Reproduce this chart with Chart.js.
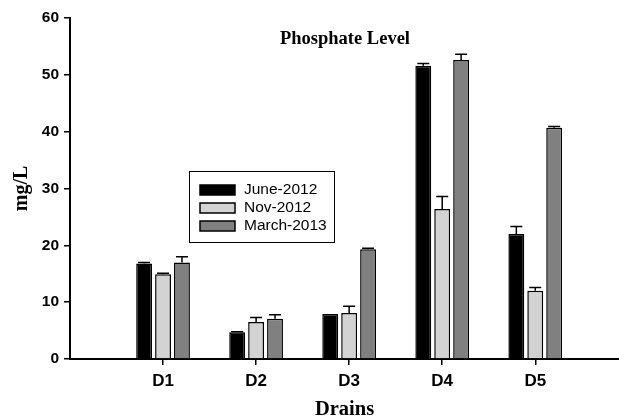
<!DOCTYPE html>
<html>
<head>
<meta charset="utf-8">
<script src="https://cdn.jsdelivr.net/npm/chart.js@4"></script>
<style>
  html, body { margin: 0; padding: 0; background: #fff; overflow: hidden; }
  #wrap { width: 619px; height: 420px; }
</style>
</head>
<body>
<div id="wrap"><canvas id="phosChart" width="619" height="420"></canvas></div>
<script>
// data
const drains = ['D1', 'D2', 'D3', 'D4', 'D5'];
const seriesNames = ['June-2012', 'Nov-2012', 'March-2013'];
const june2012 = [16.8, 4.7, 7.9, 51.6, 22.0];
const nov2012 = [14.9, 6.5, 8.1, 26.4, 12.0];
const march2013 = [17.0, 7.1, 19.3, 52.6, 40.7];
const juneErr = [0.2, 0.1, 0, 0.4, 1.3];
const novErr = [0.2, 0.8, 1.2, 2.2, 0.6];
const marchErr = [1.0, 0.7, 0.2, 1.0, 0.2];
const yTicks = [0, 10, 20, 30, 40, 50, 60];

const fillColors = ['#000000', '#d3d3d3', '#808080'];

function toPoints(vals) {
  // drains sit at x = 1..5 on a linear axis
  return vals.map((v, i) => ({ x: i + 1, y: v }));
}

// error bars (upper half only, with a cap)
const errorBars = {
  id: 'errorBars',
  afterDatasetsDraw(chart) {
    const ctx = chart.ctx;
    const yScale = chart.scales.y;
    ctx.save();
    ctx.strokeStyle = '#000';
    ctx.lineWidth = 1.5;
    chart.data.datasets.forEach((ds, di) => {
      const meta = chart.getDatasetMeta(di);
      meta.data.forEach((bar, i) => {
        const err = ds.errors[i];
        if (!err) return;
        const top = yScale.getPixelForValue(ds.data[i].y + err);
        ctx.beginPath();
        ctx.moveTo(bar.x, bar.y);
        ctx.lineTo(bar.x, top);
        ctx.moveTo(bar.x - 6, top);
        ctx.lineTo(bar.x + 6, top);
        ctx.stroke();
      });
    });
    ctx.restore();
  }
};

// title inside the plot + boxed legend
const insideText = {
  id: 'insideText',
  afterDraw(chart) {
    const ctx = chart.ctx;
    ctx.save();
    ctx.fillStyle = '#000';
    ctx.font = 'bold 18.5px "Liberation Serif", "Times New Roman", serif';
    ctx.textAlign = 'center';
    ctx.textBaseline = 'alphabetic';
    ctx.fillText('Phosphate Level', 345, 44);

    // legend box
    ctx.strokeStyle = '#000';
    ctx.lineWidth = 1;
    ctx.strokeRect(189.5, 171.5, 145, 71);
    ctx.font = '15.5px "Liberation Sans", Arial, sans-serif';
    ctx.textAlign = 'left';
    ctx.textBaseline = 'middle';
    chart.data.datasets.forEach((ds, i) => {
      const cy = 190 + i * 18;
      ctx.fillStyle = ds.backgroundColor;
      ctx.fillRect(200, cy - 5, 35, 10);
      ctx.lineWidth = 1.5;
      ctx.strokeRect(200, cy - 5, 35, 10);
      ctx.fillStyle = '#000';
      ctx.fillText(ds.label, 244, cy);
    });
    ctx.restore();
  }
};

const errs = [juneErr, novErr, marchErr];
const datasets = [june2012, nov2012, march2013].map((vals, i) => ({
  label: seriesNames[i],
  data: toPoints(vals),
  errors: errs[i],
  backgroundColor: fillColors[i],
  borderColor: '#000',
  borderWidth: 1.5,
  categoryPercentage: 0.61,
  barPercentage: 0.84
}));

new Chart(document.getElementById('phosChart'), {
  type: 'bar',
  data: { datasets: datasets },
  options: {
    responsive: false,
    animation: false,
    layout: { padding: { top: 18, left: 0, right: 0, bottom: 0 } },
    plugins: {
      legend: { display: false },
      tooltip: { enabled: false }
    },
    scales: {
      x: {
        type: 'linear',
        offset: false,
        min: 0,
        max: 5.9,
        afterFit(scale) { scale.height = 61; },
        afterBuildTicks(scale) {
          scale.ticks = drains.map((d, i) => ({ value: i + 1 }));
        },
        ticks: {
          color: '#000',
          padding: 6,
          maxRotation: 0,
          font: { family: '"Liberation Sans", Arial, sans-serif', size: 17, weight: 'bold' },
          callback: (v) => drains[v - 1] || ''
        },
        grid: { offset: false, drawOnChartArea: false, drawTicks: true, tickLength: 6, color: '#000', lineWidth: 1.5 },
        border: { display: true, color: '#000', width: 2 },
        title: {
          display: true,
          text: 'Drains',
          color: '#000',
          padding: { top: 0, bottom: 0 },
          font: { family: '"Liberation Serif", "Times New Roman", serif', size: 20.5, weight: 'bold', lineHeight: 1 }
        }
      },
      y: {
        min: 0,
        max: 60,
        afterFit(scale) { scale.width = 70; },
        afterBuildTicks(scale) {
          scale.ticks = yTicks.map(v => ({ value: v }));
        },
        ticks: {
          color: '#000',
          padding: 5,
          font: { family: '"Liberation Sans", Arial, sans-serif', size: 15.5, weight: 'bold' }
        },
        grid: { drawOnChartArea: false, drawTicks: true, tickLength: 6, color: '#000', lineWidth: 1.5 },
        border: { display: true, color: '#000', width: 2 },
        title: {
          display: true,
          text: 'mg/L',
          color: '#000',
          padding: { top: 12, bottom: 0 },
          font: { family: '"Liberation Serif", "Times New Roman", serif', size: 20, weight: 'bold', lineHeight: 1 }
        }
      }
    }
  },
  plugins: [errorBars, insideText]
});
</script>
</body>
</html>
